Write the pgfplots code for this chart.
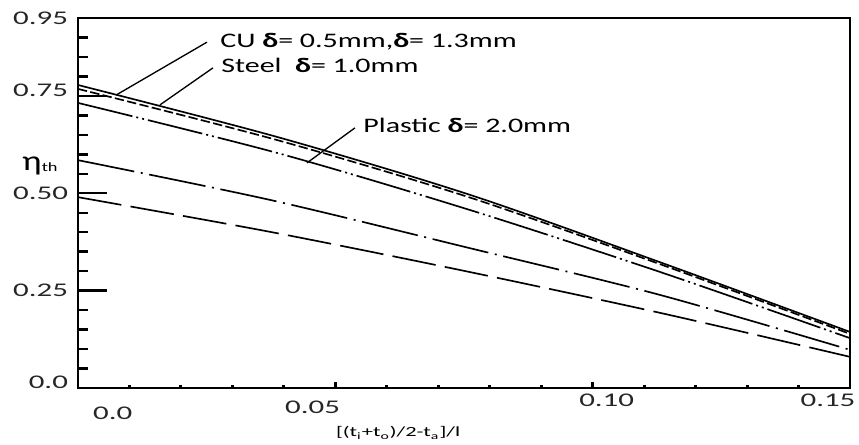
\documentclass[border=0pt]{standalone}
\usepackage{fontspec}
\setmainfont{Carlito}
\usepackage{graphicx}
\usepackage{pgfplots}
\pgfplotsset{compat=1.18}

% the scanned figure is stretched sideways, so is the text
\newcommand{\tl}[1]{\scalebox{1.6}[1]{\fontsize{14.5}{16}\selectfont #1}}
\newcommand{\ann}[1]{\scalebox{1.45}[1]{\fontsize{15.5}{18}\selectfont #1}}
\newcommand{\xl}[3]{\makebox[0pt]{\hspace*{#1}\raisebox{#2}[\height][\depth]{\tl{#3}}}}
\newcommand{\yl}[2]{\raisebox{#1}[\height][\depth]{\tl{#2}}}

\begin{document}
\begin{tikzpicture}
\path[use as bounding box] (-58.5pt,-42pt) rectangle (585.75pt,291pt);
\begin{axis}[
  at={(0,0)}, anchor=south west,
  scale only axis,
  width=579pt, height=277.5pt,
  xmin=0, xmax=0.15,
  ymin=0, ymax=0.95,
  clip=false,
  axis line style={line width=1.1pt, black},
  tick align=inside,
  xtick pos=bottom, ytick pos=left,
  xtick={0,0.05,0.1,0.15},
  xticklabels={\xl{52pt}{-10pt}{0.0},\xl{-34pt}{-5pt}{0.05},\xl{21pt}{0pt}{0.10},\xl{-33pt}{0pt}{0.15}},
  minor xtick={0.01,0.02,0.03,0.04,0.06,0.07,0.08,0.09,0.11,0.12,0.13,0.14},
  ytick={0,0.25,0.5,0.75,0.95},
  yticklabels={\yl{4.5pt}{0.0},\yl{0pt}{0.25},\yl{0pt}{0.50},\yl{4.5pt}{0.75},\yl{0pt}{0.95}},
  minor ytick={0.05,0.1,0.15,0.2,0.3,0.35,0.4,0.45,0.55,0.6,0.65,0.7,0.8,0.85,0.9},
  major tick length=22pt, minor tick length=7.5pt,
  xtick style={/pgfplots/major tick length=4.5pt,/pgfplots/minor tick length=2.5pt,line width=2.2pt,black},
  ytick style={line width=1.8pt,black},
  tick label style={text=black!85},
  yticklabel style={xshift=-4pt},
  xticklabel style={yshift=-1pt},
  every axis plot/.append style={line width=1.25pt, black},
]
% CU delta = 0.5 mm
\addplot[smooth] coordinates {
(0,0.778) (0.03886,0.644) (0.07616,0.496) (0.11308,0.323) (0.15,0.144)
};
% CU delta = 1.3 mm
\addplot[smooth, dash pattern=on 7pt off 2.5pt] coordinates {
(0,0.768) (0.03886,0.636) (0.07616,0.489) (0.11308,0.318) (0.15,0.139)
};
% Steel / plastic, dash dot dot
\addplot[smooth, dash pattern=on 42pt off 3pt on 1.5pt off 3pt on 1.5pt off 3pt] coordinates {
(0,0.732) (0.03886,0.603) (0.07616,0.457) (0.11308,0.298) (0.15,0.128)
};
% dash dot
\addplot[smooth, dash pattern=on 43pt off 5pt on 1.5pt off 5pt] coordinates {
(0,0.585) (0.0373,0.483) (0.07616,0.359) (0.11308,0.239) (0.15,0.098)
};
% long dash
\addplot[smooth, dash pattern=on 33pt off 7pt] coordinates {
(0,0.490) (0.0373,0.401) (0.07422,0.303) (0.11308,0.193) (0.15,0.080)
};

\draw[line width=1pt] (axis cs:0.02506,0.888) -- (axis cs:0.00738,0.752);
\draw[line width=1pt] (axis cs:0.02623,0.822) -- (axis cs:0.01593,0.727);
\draw[line width=1pt] (axis cs:0.05382,0.668) -- (axis cs:0.04449,0.578);

\node[anchor=west, inner sep=0pt] at (axis cs:0.0276,0.890) {\ann{CU \textbf{δ}= 0.5mm,\textbf{δ}= 1.3mm}};
\node[anchor=west, inner sep=0pt] at (axis cs:0.0278,0.828) {\ann{Steel\ \ \textbf{δ}= 1.0mm}};
\node[anchor=west, inner sep=0pt] at (axis cs:0.0554,0.675) {\ann{Plastic \textbf{δ}= 2.0mm}};

\node[inner sep=0pt] at (axis cs:-0.0074,0.570)
  {\scalebox{1.3}[1]{\fontsize{21}{21}\selectfont η}\raisebox{-1pt}{\scalebox{1.45}[1]{\fontsize{9.5}{9.5}\selectfont th}}};
\node[inner sep=0pt] at (axis cs:0.0622,-0.1155)
  {\scalebox{1.6}[1]{\fontsize{10.5}{12}\selectfont [(t\textsubscript{i}+t\textsubscript{o})/2-t\textsubscript{a}]/l}};
\end{axis}
\end{tikzpicture}
\end{document}
